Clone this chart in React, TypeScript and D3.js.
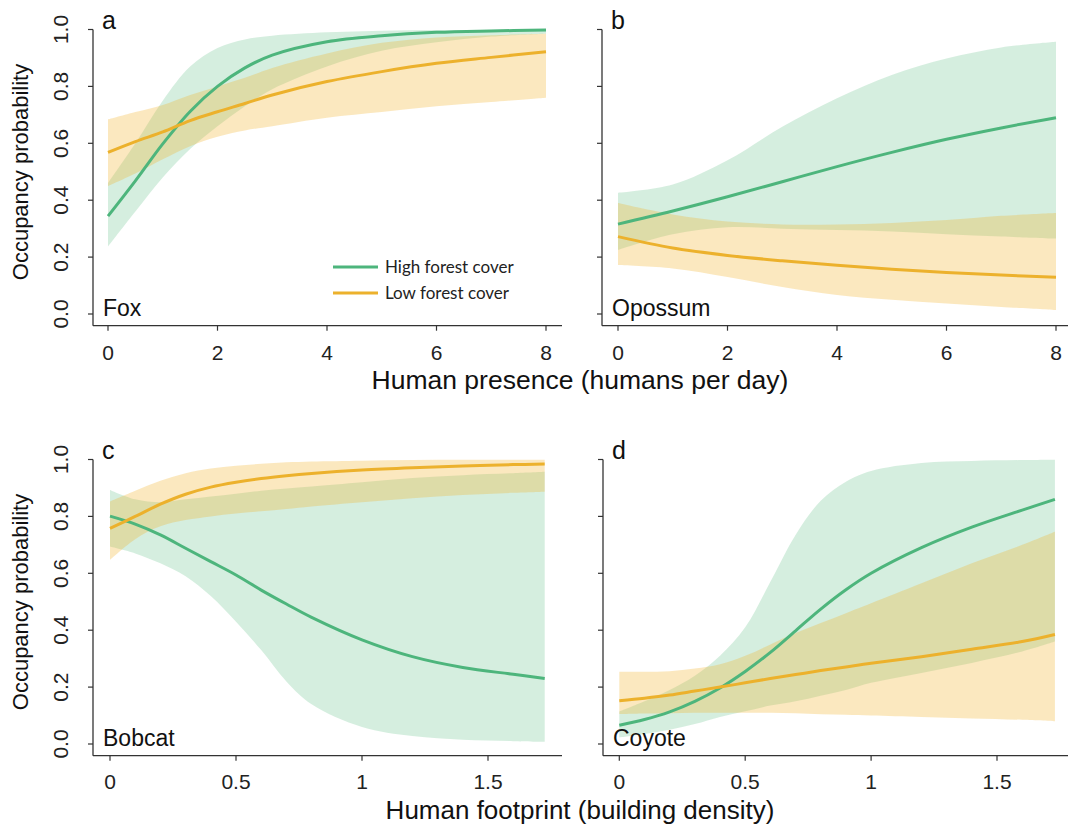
import React from "react";
import * as d3 from "d3";

// ---------- data ----------
const yTicks = [0, 0.2, 0.4, 0.6, 0.8, 1.0];
const yTickLabels = ["0.0", "0.2", "0.4", "0.6", "0.8", "1.0"];
const presenceTicks = [0, 2, 4, 6, 8];
const presenceTickLabels = ["0", "2", "4", "6", "8"];
const footprintTicks = [0, 0.5, 1, 1.5];
const footprintTickLabels = ["0", "0.5", "1", "1.5"];

const seriesNames = ["High forest cover", "Low forest cover"];

// Panel a: Fox (human presence)
const foxX = [0, 0.5, 1, 1.5, 2, 2.5, 3, 4, 5, 6, 7, 8];
const foxHighMean = [0.344, 0.468, 0.598, 0.712, 0.8, 0.865, 0.91, 0.957, 0.978, 0.99, 0.995, 0.998];
const foxHighLower = [0.237, 0.36, 0.48, 0.58, 0.66, 0.73, 0.79, 0.87, 0.925, 0.955, 0.975, 0.985];
const foxHighUpper = [0.46, 0.6, 0.75, 0.87, 0.935, 0.965, 0.978, 0.99, 0.996, 0.998, 0.999, 1.0];
const foxLowMean = [0.568, 0.606, 0.64, 0.68, 0.711, 0.74, 0.77, 0.817, 0.852, 0.881, 0.902, 0.922];
const foxLowLower = [0.45, 0.494, 0.544, 0.59, 0.623, 0.645, 0.66, 0.69, 0.71, 0.73, 0.745, 0.76];
const foxLowUpper = [0.684, 0.71, 0.735, 0.77, 0.8, 0.83, 0.865, 0.916, 0.953, 0.972, 0.98, 0.985];

// Panel b: Opossum (human presence)
const opossumX = [0, 1, 2, 3, 4, 5, 6, 7, 8];
const opossumHighMean = [0.316, 0.362, 0.412, 0.465, 0.518, 0.568, 0.614, 0.654, 0.69];
const opossumHighLower = [0.225, 0.28, 0.305, 0.3, 0.295, 0.29, 0.28, 0.272, 0.265];
const opossumHighUpper = [0.426, 0.455, 0.54, 0.658, 0.758, 0.84, 0.898, 0.937, 0.957];
const opossumLowMean = [0.272, 0.232, 0.206, 0.187, 0.171, 0.157, 0.146, 0.137, 0.129];
const opossumLowLower = [0.172, 0.16, 0.13, 0.095, 0.067, 0.05, 0.037, 0.025, 0.014];
const opossumLowUpper = [0.39, 0.35, 0.325, 0.315, 0.315, 0.32, 0.33, 0.345, 0.355];

// Panel c: Bobcat (human footprint)
const bobcatX = [0, 0.1, 0.2, 0.3, 0.4, 0.5, 0.6, 0.7, 0.8, 1.0, 1.2, 1.4, 1.6, 1.725];
const bobcatHighMean = [0.801, 0.773, 0.735, 0.688, 0.641, 0.594, 0.541, 0.492, 0.445, 0.366, 0.307, 0.269, 0.245, 0.23];
const bobcatHighLower = [0.694, 0.67, 0.635, 0.59, 0.52, 0.43, 0.33, 0.22, 0.14, 0.06, 0.028, 0.015, 0.01, 0.008];
const bobcatHighUpper = [0.893, 0.86, 0.85, 0.86, 0.87, 0.88, 0.89, 0.898, 0.905, 0.92, 0.935, 0.945, 0.952, 0.957];
const bobcatLowMean = [0.758, 0.8, 0.843, 0.878, 0.903, 0.92, 0.933, 0.943, 0.951, 0.963, 0.971, 0.977, 0.982, 0.984];
const bobcatLowLower = [0.647, 0.72, 0.765, 0.787, 0.8, 0.81, 0.818, 0.826, 0.835, 0.85, 0.864, 0.875, 0.883, 0.887];
const bobcatLowUpper = [0.852, 0.89, 0.925, 0.952, 0.968, 0.978, 0.985, 0.99, 0.993, 0.996, 0.998, 0.999, 0.999, 0.999];

// Panel d: Coyote (human footprint)
const coyoteX = [0, 0.1, 0.2, 0.3, 0.4, 0.5, 0.6, 0.7, 0.8, 0.9, 1.0, 1.2, 1.4, 1.6, 1.73];
const coyoteHighMean = [0.066, 0.086, 0.113, 0.15, 0.197, 0.255, 0.322, 0.398, 0.474, 0.542, 0.6, 0.69, 0.762, 0.822, 0.86];
const coyoteHighLower = [0.023, 0.035, 0.05, 0.07, 0.095, 0.115, 0.135, 0.15, 0.17, 0.19, 0.215, 0.25, 0.285, 0.325, 0.36];
const coyoteHighUpper = [0.114, 0.15, 0.19, 0.24, 0.31, 0.41, 0.57, 0.735, 0.855, 0.922, 0.96, 0.988, 0.995, 0.998, 0.999];
const coyoteLowMean = [0.152, 0.161, 0.172, 0.186, 0.2, 0.215, 0.23, 0.244, 0.258, 0.271, 0.284, 0.307, 0.333, 0.36, 0.385];
const coyoteLowLower = [0.105, 0.107, 0.108, 0.11, 0.11, 0.11, 0.11, 0.108, 0.105, 0.103, 0.1, 0.095, 0.09, 0.085, 0.08];
const coyoteLowUpper = [0.254, 0.254, 0.256, 0.265, 0.28, 0.31, 0.35, 0.39, 0.425, 0.46, 0.495, 0.565, 0.635, 0.7, 0.746];

// ---------- style ----------
const GREEN = "#4db57c";
const ORANGE = "#ecb12c";
const GREEN_FILL = "#5cbf85";
const ORANGE_FILL = "#f2b42c";
const RFONT = "'Liberation Sans', Arial, Helvetica, sans-serif";
const AXIS = "#333";

type PanelSpec = {
  letter: string;
  species: string;
  xs: number[];
  hi: [number[], number[], number[]];
  lo: [number[], number[], number[]];
  xDomain: [number, number];
  xRange: [number, number];
  yRange: [number, number];
  axisX: number;
  axisY: number;
  axisEnd: number;
  ticks: number[];
  tickLabels: string[];
  tickLabelDy: number;
  showYLabels: boolean;
  legend?: boolean;
};

function Panel({ p }: { p: PanelSpec }) {
  const x = d3.scaleLinear().domain(p.xDomain).range(p.xRange);
  const y = d3.scaleLinear().domain([0, 1]).range(p.yRange);
  const idx = p.xs.map((_, i) => i);
  const curve = d3.curveCatmullRom.alpha(0.5);
  const area = (lo: number[], hi: number[]) =>
    d3
      .area<number>()
      .x((i) => x(p.xs[i]))
      .y0((i) => y(lo[i]))
      .y1((i) => y(hi[i]))
      .curve(curve)(idx) || "";
  const line = (m: number[]) =>
    d3
      .line<number>()
      .x((i) => x(p.xs[i]))
      .y((i) => y(m[i]))
      .curve(curve)(idx) || "";
  const top = y(1);
  return (
    <g>
      <path d={area(p.hi[1], p.hi[2])} fill={GREEN_FILL} fillOpacity={0.26} />
      <path d={area(p.lo[1], p.lo[2])} fill={ORANGE_FILL} fillOpacity={0.3} />
      <path d={line(p.hi[0])} fill="none" stroke={GREEN} strokeWidth={3} />
      <path d={line(p.lo[0])} fill="none" stroke={ORANGE} strokeWidth={3} />
      {/* axes (L box) */}
      <line x1={p.axisX} x2={p.axisX} y1={top} y2={p.axisY} stroke={AXIS} strokeWidth={1.3} />
      <line x1={p.axisX} x2={p.axisEnd} y1={p.axisY} y2={p.axisY} stroke={AXIS} strokeWidth={1.3} />
      {yTicks.map((t, i) => (
        <g key={"y" + i}>
          <line x1={p.axisX - 5} x2={p.axisX} y1={y(t)} y2={y(t)} stroke={AXIS} strokeWidth={1.2} />
          {p.showYLabels && (
            <text
              transform={`translate(${p.axisX - 25},${y(t)}) rotate(-90)`}
              textAnchor="middle"
              fontFamily={RFONT}
              fontSize={21}
              fill="#222"
            >
              {yTickLabels[i]}
            </text>
          )}
        </g>
      ))}
      {p.ticks.map((t, i) => (
        <g key={"x" + i}>
          <line x1={x(t)} x2={x(t)} y1={p.axisY} y2={p.axisY + 5} stroke={AXIS} strokeWidth={1.2} />
          <text x={x(t)} y={p.axisY + p.tickLabelDy} textAnchor="middle" fontFamily={RFONT} fontSize={21} fill="#222">
            {p.tickLabels[i]}
          </text>
        </g>
      ))}
      <text x={p.axisX + 9} y={top - 1} fontFamily={RFONT} fontSize={25} fill="#111">
        {p.letter}
      </text>
      <text x={p.axisX + 10} y={p.axisY - 10} fontFamily={RFONT} fontSize={23} fill="#111">
        {p.species}
      </text>
      {p.legend && (
        <g>
          <line x1={333} x2={378} y1={267} y2={267} stroke={GREEN} strokeWidth={3} />
          <line x1={333} x2={378} y1={293} y2={293} stroke={ORANGE} strokeWidth={3} />
          <text x={385} y={273} fontFamily="Lato, 'Open Sans', sans-serif" fontSize={17} fill="#222">
            {seriesNames[0]}
          </text>
          <text x={385} y={299} fontFamily="Lato, 'Open Sans', sans-serif" fontSize={17} fill="#222">
            {seriesNames[1]}
          </text>
        </g>
      )}
    </g>
  );
}

export default function App() {
  const panels: PanelSpec[] = [
    {
      letter: "a", species: "Fox", xs: foxX,
      hi: [foxHighMean, foxHighLower, foxHighUpper],
      lo: [foxLowMean, foxLowLower, foxLowUpper],
      xDomain: [0, 8], xRange: [108, 546], yRange: [314, 29.5],
      axisX: 93, axisY: 325.7, axisEnd: 562,
      ticks: presenceTicks, tickLabels: presenceTickLabels, tickLabelDy: 34, showYLabels: true, legend: true,
    },
    {
      letter: "b", species: "Opossum", xs: opossumX,
      hi: [opossumHighMean, opossumHighLower, opossumHighUpper],
      lo: [opossumLowMean, opossumLowLower, opossumLowUpper],
      xDomain: [0, 8], xRange: [618, 1056], yRange: [314, 29.5],
      axisX: 602, axisY: 325.7, axisEnd: 1068,
      ticks: presenceTicks, tickLabels: presenceTickLabels, tickLabelDy: 34, showYLabels: false,
    },
    {
      letter: "c", species: "Bobcat", xs: bobcatX,
      hi: [bobcatHighMean, bobcatHighLower, bobcatHighUpper],
      lo: [bobcatLowMean, bobcatLowLower, bobcatLowUpper],
      xDomain: [0, 1.5], xRange: [110, 488], yRange: [744, 459.5],
      axisX: 93, axisY: 755.7, axisEnd: 562,
      ticks: footprintTicks, tickLabels: footprintTickLabels, tickLabelDy: 33, showYLabels: true,
    },
    {
      letter: "d", species: "Coyote", xs: coyoteX,
      hi: [coyoteHighMean, coyoteHighLower, coyoteHighUpper],
      lo: [coyoteLowMean, coyoteLowLower, coyoteLowUpper],
      xDomain: [0, 1.5], xRange: [619.3, 997], yRange: [744, 459.5],
      axisX: 603, axisY: 755.7, axisEnd: 1068,
      ticks: footprintTicks, tickLabels: footprintTickLabels, tickLabelDy: 33, showYLabels: false,
    },
  ];
  return (
    <svg
      width={1068}
      height={836}
      style={{ position: "absolute", left: 0, top: 0, background: "#fff" }}
    >
      <rect width={1068} height={836} fill="#fff" />
      {panels.map((p) => (
        <Panel key={p.letter} p={p} />
      ))}
      <text x={580} y={389} textAnchor="middle" fontFamily={RFONT} fontSize={26.5} fill="#111">
        Human presence (humans per day)
      </text>
      <text x={580} y={819} textAnchor="middle" fontFamily={RFONT} fontSize={26} fill="#111">
        Human footprint (building density)
      </text>
      <text transform="translate(28,172) rotate(-90)" textAnchor="middle" fontFamily={RFONT} fontSize={22} fill="#111">
        Occupancy probability
      </text>
      <text transform="translate(28,602) rotate(-90)" textAnchor="middle" fontFamily={RFONT} fontSize={22} fill="#111">
        Occupancy probability
      </text>
    </svg>
  );
}
